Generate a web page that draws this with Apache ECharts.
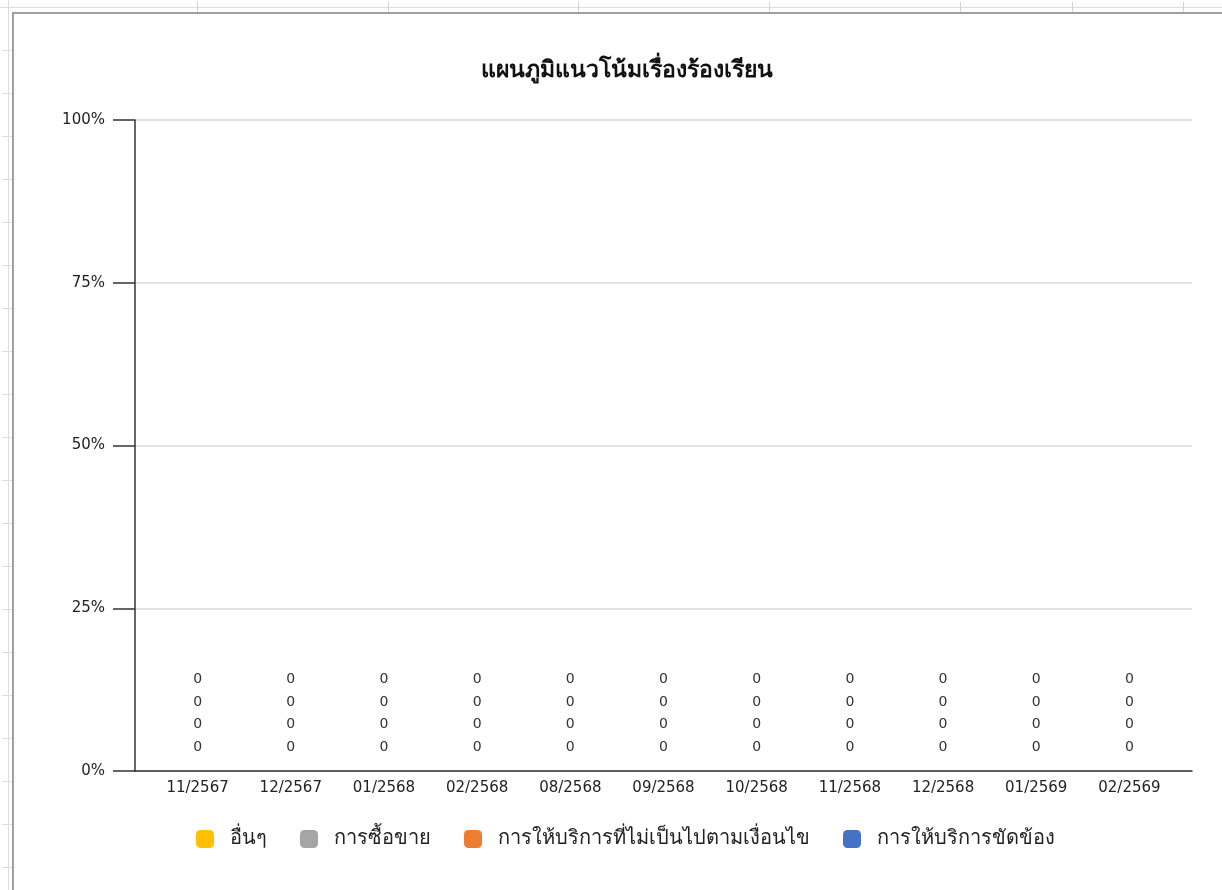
<!DOCTYPE html>
<html>
<head>
<meta charset="utf-8">
<script src="https://cdn.jsdelivr.net/npm/echarts@6/dist/echarts.min.js"></script>
<style>
html,body{margin:0;padding:0;background:#fff;width:1222px;height:890px;overflow:hidden;}
#deco-top{position:absolute;left:0;top:7px;width:1222px;height:0;border-top:1px solid #dcdcdc;}
#deco-left{position:absolute;left:8px;top:0;width:0;height:890px;border-left:1px solid #dcdcdc;}
.vt{position:absolute;top:2px;width:0;height:10px;border-left:1px solid #d0d0d0;}
.ht{position:absolute;left:2px;height:0;width:10px;border-top:1px solid #dcdcdc;}
#frame{position:absolute;left:12px;top:12px;width:1300px;height:1000px;border-left:2px solid #a0a0a0;border-top:2px solid #a0a0a0;background:#fff;}
#chart{position:absolute;left:0;top:0;width:1222px;height:890px;}
</style>
</head>
<body>
<div id="deco-top"></div>
<div id="deco-left"></div>
<div id="frame"></div>
<div id="chart"></div>
<script>
// ---- data ----
var categories = ['11/2567','12/2567','01/2568','02/2568','08/2568','09/2568','10/2568','11/2568','12/2568','01/2569','02/2569'];
var seriesNames = ['การให้บริการขัดข้อง','การให้บริการที่ไม่เป็นไปตามเงื่อนไข','การซื้อขาย','อื่นๆ'];
var valuesService = [0,0,0,0,0,0,0,0,0,0,0];
var valuesCondition = [0,0,0,0,0,0,0,0,0,0,0];
var valuesTrade = [0,0,0,0,0,0,0,0,0,0,0];
var valuesOther = [0,0,0,0,0,0,0,0,0,0,0];
var legendOrder = ['อื่นๆ','การซื้อขาย','การให้บริการที่ไม่เป็นไปตามเงื่อนไข','การให้บริการขัดข้อง'];

// decorations (spreadsheet background)
[197,388,578,769,960,1072,1183].forEach(function(x){
  var d=document.createElement('div');d.className='vt';d.style.left=x+'px';document.body.insertBefore(d,document.getElementById('frame'));
});
for(var y=50;y<890;y+=43){
  var d=document.createElement('div');d.className='ht';d.style.top=y+'px';document.body.insertBefore(d,document.getElementById('frame'));
}

var FONT = '"DejaVu Sans", Tahoma, "Noto Sans", sans-serif';
var colors = ['#4472C4','#ED7D31','#A5A5A5','#FFC000'];
var seriesValues = [valuesService, valuesCondition, valuesTrade, valuesOther];
var labelDist = [17, 40, 62, 85];

var chart = echarts.init(document.getElementById('chart'), null, {renderer:'canvas'});
var series = seriesNames.map(function(n,i){
  return {
    name:n, type:'bar', stack:'total', xAxisIndex:1, yAxisIndex:1,
    barWidth:'50%', data:seriesValues[i], itemStyle:{color:colors[i]},
    label:{show:true, position:'top', distance:labelDist[i], color:'#333', fontSize:14, fontFamily:FONT, formatter:function(p){return String(p.value);}}
  };
});
chart.setOption({
  backgroundColor:'transparent',
  animation:false,
  title:{text:'แผนภูมิแนวโน้มเรื่องร้องเรียน', left:622, textAlign:'center', top:55,
    textStyle:{fontSize:23, fontWeight:'bold', color:'#111', fontFamily:FONT}},
  legend:{data:legendOrder, left:196, top:829, padding:0, itemWidth:18, itemHeight:18, itemGap:33, icon:'roundRect',
    textStyle:{fontSize:20, color:'#222', fontFamily:FONT, padding:[0,0,0,11]}},
  grid:[
    {left:135, right:30, top:120, bottom:119},
    {left:151, right:46, top:120, bottom:119}
  ],
  xAxis:[
    {type:'category', gridIndex:0, data:[''], axisLine:{show:true, lineStyle:{color:'#333', width:1.5}}, axisTick:{show:false}, axisLabel:{show:false}},
    {type:'category', gridIndex:1, data:categories, axisLine:{show:false}, axisTick:{show:false},
      axisLabel:{color:'#222', fontSize:15, margin:10, fontFamily:FONT}}
  ],
  yAxis:[
    {type:'value', gridIndex:0, min:0, max:100, interval:25,
      axisLine:{show:true, lineStyle:{color:'#333', width:1.5}},
      axisTick:{show:true, length:22, lineStyle:{color:'#333', width:1.5}},
      axisLabel:{formatter:'{value}%', color:'#222', fontSize:15, margin:30, fontFamily:FONT},
      splitLine:{show:true, lineStyle:{color:'#d9d9d9', width:1.5}}},
    {type:'value', gridIndex:1, min:0, max:100, show:false, splitLine:{show:false}}
  ],
  series:series
});
</script>
</body>
</html>
